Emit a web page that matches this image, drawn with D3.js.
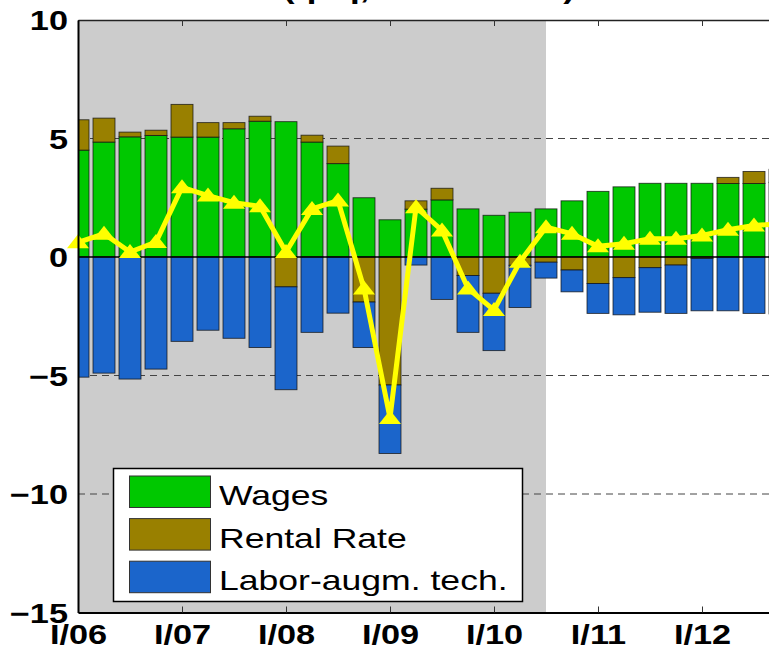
<!DOCTYPE html>
<html>
<head>
<meta charset="utf-8">
<script src="https://cdn.jsdelivr.net/npm/d3@7"></script>
<style>
  html, body { margin: 0; padding: 0; background: #fff; }
  svg { display: block; }
</style>
</head>
<body>
<div id="chart"></div>
<script>
// quarters I/06 .. IV/12
const quarters = [
  "I/06", "II/06", "III/06", "IV/06", "I/07", "II/07", "III/07", "IV/07",
  "I/08", "II/08", "III/08", "IV/08", "I/09", "II/09", "III/09", "IV/09",
  "I/10", "II/10", "III/10", "IV/10", "I/11", "II/11", "III/11", "IV/11",
  "I/12", "II/12", "III/12", "IV/12"
];
const wages = [
  4.51, 4.85, 5.07, 5.13, 5.06, 5.06, 5.41, 5.73,
  5.71, 4.85, 3.94, 2.50, 1.57, 2.02, 2.41, 2.03,
  1.76, 1.89, 2.03, 2.37, 2.77, 2.96, 3.11, 3.11,
  3.11, 3.10, 3.10, 3.15
];
const rentalRate = [
  1.28, 1.01, 0.20, 0.22, 1.38, 0.61, 0.26, 0.21,
  -1.26, 0.29, 0.74, -1.90, -5.40, 0.35, 0.49, -0.78,
  -1.53, -0.35, -0.22, -0.55, -1.12, -0.87, -0.45, -0.34,
  -0.06, 0.26, 0.51, 0.55
];
const laborTech = [
  -5.07, -4.90, -5.15, -4.73, -3.56, -3.09, -3.43, -3.82,
  -4.34, -3.18, -2.37, -1.92, -2.89, -0.34, -1.79, -2.40,
  -2.42, -1.78, -0.67, -0.92, -1.26, -1.57, -1.88, -2.04,
  -2.21, -2.27, -2.38, -2.40
];
const total = [
  0.62, 0.98, 0.21, 0.63, 2.94, 2.59, 2.29, 2.14,
  0.21, 2.03, 2.38, -1.33, -6.79, 2.10, 1.12, -1.33,
  -2.24, -0.20, 1.26, 0.98, 0.45, 0.56, 0.77, 0.77,
  0.91, 1.15, 1.33, 1.40
];
const seriesNames = ["Wages", "Rental Rate", "Labor-augm. tech."];
const yTicks = [-15, -10, -5, 0, 5, 10];
const gridTicks = [-10, -5, 5];
const shadedUntil = "III/10";
const titleText = "(qoq, annualized)";

const colors = ["#00c800", "#998000", "#1b65cb"];
const series = [wages, rentalRate, laborTech];

const W = 769, H = 650;
const plotL = 78, plotR = 780, plotT = 20, plotB = 612.5;
const sx = 1.27; // glyphs in the picture are wider than tall
const font = "'Liberation Sans', Arial, sans-serif";

const svg = d3.select("#chart").append("svg")
  .attr("width", W).attr("height", H);

const x = d3.scaleLinear().domain([0, quarters.length - 1]).range([plotL, plotR]);
const y = d3.scaleLinear().domain([-15, 10]).range([plotB, plotT]);
const bw = (x(1) - x(0)) * 0.846;

svg.append("clipPath").attr("id", "plot")
  .append("rect").attr("x", plotL).attr("y", plotT)
  .attr("width", plotR - plotL).attr("height", plotB - plotT);

// shaded history
svg.append("rect")
  .attr("x", plotL).attr("y", plotT)
  .attr("width", x(quarters.indexOf(shadedUntil)) - plotL)
  .attr("height", plotB - plotT)
  .attr("fill", "#cccccc");

// dashed grid
svg.append("g").selectAll("line").data(gridTicks).join("line")
  .attr("x1", plotL).attr("x2", plotR)
  .attr("y1", d => y(d)).attr("y2", d => y(d))
  .attr("stroke", "#444").attr("stroke-width", 1)
  .attr("stroke-dasharray", "7,5");

// stacked bars, positives and negatives stacked separately
const segs = [];
quarters.forEach((q, i) => {
  let pos = 0, neg = 0;
  series.forEach((s, k) => {
    const v = s[i];
    if (v >= 0) { segs.push({ i, k, y0: pos, y1: pos + v }); pos += v; }
    else { segs.push({ i, k, y0: neg + v, y1: neg }); neg += v; }
  });
});

svg.append("g").attr("clip-path", "url(#plot)")
  .selectAll("rect").data(segs).join("rect")
  .attr("x", d => x(d.i) - bw / 2)
  .attr("width", bw)
  .attr("y", d => y(d.y1))
  .attr("height", d => y(d.y0) - y(d.y1))
  .attr("fill", d => colors[d.k])
  .attr("stroke", "#111").attr("stroke-width", 0.9).attr("stroke-opacity", 0.8);

// zero line
svg.append("line")
  .attr("x1", plotL).attr("x2", plotR)
  .attr("y1", y(0)).attr("y2", y(0))
  .attr("stroke", "#000").attr("stroke-width", 1.3);

// total line with triangle markers
const line = d3.line().x((d, i) => x(i)).y(d => y(d));
svg.append("path").datum(total)
  .attr("d", line)
  .attr("fill", "none").attr("stroke", "#ffff00")
  .attr("stroke-width", 5).attr("stroke-linejoin", "miter");

svg.append("g").selectAll("path").data(total).join("path")
  .attr("d", "M-11,6L11,6L0,-8Z")
  .attr("transform", (d, i) => `translate(${x(i)},${y(d)})`)
  .attr("fill", "#ffff00");

// axes
const firstQ = quarters.map((q, i) => i).filter(i => quarters[i].startsWith("I/"));
const fmtQ = i => quarters[i];

const xb = svg.append("g").attr("transform", `translate(0,${plotB})`)
  .call(d3.axisBottom(x).tickValues(firstQ).tickSize(-6).tickSizeOuter(0).tickFormat(fmtQ));
xb.select(".domain").attr("stroke", "#000").attr("stroke-width", 2);
xb.selectAll(".tick line").attr("stroke", "#333");
xb.selectAll("text")
  .attr("y", 31.5).attr("dy", 0)
  .attr("transform", `scale(${sx},1)`)
  .attr("font-family", font)
  .attr("font-weight", "bold").attr("font-size", 27).attr("fill", "#000");

const xt = svg.append("g").attr("transform", `translate(0,${plotT})`)
  .call(d3.axisTop(x).tickValues(firstQ).tickSize(-6).tickSizeOuter(0).tickFormat(""));
xt.select(".domain").attr("stroke", "#222").attr("stroke-width", 1.3);
xt.selectAll(".tick line").attr("stroke", "#333");

const yl = svg.append("g").attr("transform", `translate(${plotL},0)`)
  .call(d3.axisLeft(y).tickValues(yTicks).tickSize(0).tickSizeOuter(0).tickFormat(d3.format("d")));
yl.select(".domain").attr("stroke", "#000").attr("stroke-width", 2);
yl.selectAll("text")
  .attr("x", -10 / sx).attr("y", 9.5).attr("dy", 0)
  .attr("transform", `scale(${sx},1)`)
  .attr("font-family", font)
  .attr("font-weight", "bold").attr("font-size", 27).attr("fill", "#000");

// legend
const lg = svg.append("g");
lg.append("rect")
  .attr("x", 113.5).attr("y", 468.5).attr("width", 409).attr("height", 133)
  .attr("fill", "#fff").attr("stroke", "#000").attr("stroke-width", 1.5);
seriesNames.forEach((name, k) => {
  const yy = 476 + k * 42.6;
  lg.append("rect")
    .attr("x", 129.5).attr("y", yy).attr("width", 81).attr("height", 31.5)
    .attr("fill", colors[k]).attr("stroke", "#333").attr("stroke-width", 1);
  lg.append("text")
    .attr("transform", `translate(219,${yy + 29}) scale(${sx},1)`)
    .attr("font-family", font)
    .attr("font-size", 28).attr("fill", "#000")
    .text(name);
});

// title, mostly outside the picture
svg.append("text")
  .attr("transform", `translate(${(plotL + plotR) / 2},-2) scale(${sx},1)`)
  .attr("text-anchor", "middle")
  .attr("font-family", font)
  .attr("font-weight", "bold").attr("font-size", 28).attr("fill", "#000")
  .text(titleText);
</script>
</body>
</html>
